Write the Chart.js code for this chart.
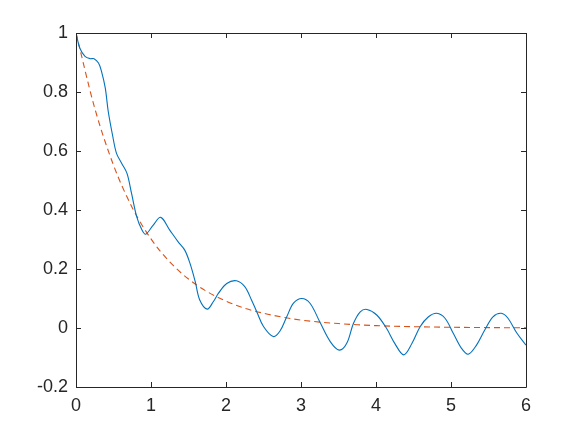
<!DOCTYPE html>
<html>
<head>
<meta charset="utf-8">
<script src="https://cdn.jsdelivr.net/npm/chart.js@4.4.0/dist/chart.umd.min.js"></script>
<style>
html,body{margin:0;padding:0;background:#fff;}
#wrap{width:581px;height:436px;}
</style>
</head>
<body>
<div id="wrap"><canvas id="c" width="581" height="436"></canvas></div>
<script>
// Blue (solid) series
const blueX = [0, 0.05, 0.12, 0.19, 0.24, 0.30, 0.34, 0.39, 0.43, 0.49, 0.54, 0.61, 0.68, 0.74, 0.81, 0.88, 0.93, 1.03, 1.13, 1.25, 1.36, 1.45, 1.52, 1.59, 1.65, 1.75, 1.83, 1.90, 2.01, 2.14, 2.25, 2.34, 2.41, 2.50, 2.63, 2.72, 2.81, 2.90, 3.01, 3.12, 3.25, 3.39, 3.51, 3.61, 3.70, 3.79, 3.88, 4.01, 4.14, 4.25, 4.37, 4.48, 4.59, 4.70, 4.81, 4.92, 5.03, 5.14, 5.23, 5.34, 5.45, 5.56, 5.67, 5.76, 5.88, 6.0];
const blueY = [1.0, 0.949, 0.921, 0.913, 0.913, 0.898, 0.870, 0.814, 0.734, 0.650, 0.592, 0.558, 0.524, 0.457, 0.377, 0.332, 0.318, 0.349, 0.375, 0.332, 0.293, 0.264, 0.219, 0.157, 0.095, 0.064, 0.089, 0.118, 0.151, 0.160, 0.140, 0.095, 0.055, 0.005, -0.029, -0.010, 0.038, 0.084, 0.100, 0.084, 0.021, -0.046, -0.075, -0.052, 0.016, 0.055, 0.063, 0.044, -0.001, -0.052, -0.091, -0.052, 0.005, 0.038, 0.050, 0.033, -0.018, -0.069, -0.089, -0.058, -0.007, 0.038, 0.050, 0.033, -0.018, -0.058];
// Red (dashed) series
const redX = [0, 0.25, 0.5, 0.75, 1, 1.25, 1.5, 1.75, 2, 2.25, 2.5, 2.75, 3, 3.25, 3.5, 3.75, 4, 4.25, 4.5, 4.75, 5, 5.25, 5.5, 5.75, 6];
const redY = [1.0, 0.745, 0.552, 0.408, 0.302, 0.224, 0.166, 0.123, 0.091, 0.067, 0.050, 0.037, 0.027, 0.020, 0.015, 0.011, 0.008, 0.006, 0.0045, 0.0033, 0.0025, 0.0018, 0.0014, 0.001, 0.0007];
// Ticks
const xTicks = [0, 1, 2, 3, 4, 5, 6];
const xTickLabels = ['0', '1', '2', '3', '4', '5', '6'];
const yTicks = [-0.2, 0, 0.2, 0.4, 0.6, 0.8, 1];
const yTickLabels = ['-0.2', '0', '0.2', '0.4', '0.6', '0.8', '1'];

const toPts = (xs, ys) => xs.map((x, i) => ({x: x, y: ys[i]}));
const AXIS = '#262626';
const FONT = {family: '"Liberation Sans", Arial, Helvetica, sans-serif', size: 18};

const boxPlugin = {
  id: 'matlabBox',
  afterDatasetsDraw(chart) {
    const {ctx, chartArea: a, scales: {x, y}} = chart;
    ctx.save();
    ctx.strokeStyle = AXIS;
    ctx.lineWidth = 1;
    ctx.beginPath();
    ctx.rect(Math.round(a.left) + 0.5, Math.round(a.top) + 0.5, Math.round(a.right - a.left), Math.round(a.bottom - a.top));
    const L = 5;
    xTicks.forEach(v => {
      const px = Math.round(x.getPixelForValue(v)) + 0.5;
      ctx.moveTo(px, a.bottom); ctx.lineTo(px, a.bottom - L);
      ctx.moveTo(px, a.top); ctx.lineTo(px, a.top + L);
    });
    yTicks.forEach(v => {
      const py = Math.round(y.getPixelForValue(v)) + 0.5;
      ctx.moveTo(a.left, py); ctx.lineTo(a.left + L, py);
      ctx.moveTo(a.right, py); ctx.lineTo(a.right - L, py);
    });
    ctx.stroke();
    ctx.restore();
  }
};

new Chart(document.getElementById('c'), {
  type: 'line',
  data: {
    datasets: [
      {data: toPts(blueX, blueY), borderColor: '#0072BD', borderWidth: 1.1, pointRadius: 0, fill: false, tension: 0.35},
      {data: toPts(redX, redY), borderColor: '#D95319', borderWidth: 1.1, borderDash: [6, 4], pointRadius: 0, fill: false, cubicInterpolationMode: 'monotone'}
    ]
  },
  options: {
    responsive: false,
    animation: false,
    devicePixelRatio: 1,
    layout: {padding: {top: 33, right: 55, left: 0, bottom: 0}},
    plugins: {legend: {display: false}, tooltip: {enabled: false}},
    scales: {
      x: {
        type: 'linear', min: 0, max: 6,
        afterBuildTicks: s => { s.ticks = xTicks.map(v => ({value: v})); },
        afterFit: s => { s.height = 49; },
        grid: {display: false, drawTicks: false},
        border: {display: false},
        ticks: {color: AXIS, font: FONT, padding: 8, maxRotation: 0, autoSkip: false,
          callback: (v, i) => xTickLabels[i]}
      },
      y: {
        type: 'linear', min: -0.2, max: 1,
        afterBuildTicks: s => { s.ticks = yTicks.map(v => ({value: v})); },
        afterFit: s => { s.width = 76; },
        grid: {display: false, drawTicks: false},
        border: {display: false},
        ticks: {color: AXIS, font: FONT, padding: 8, autoSkip: false,
          callback: (v, i) => yTickLabels[i]}
      }
    }
  },
  plugins: [boxPlugin]
});
</script>
</body>
</html>
